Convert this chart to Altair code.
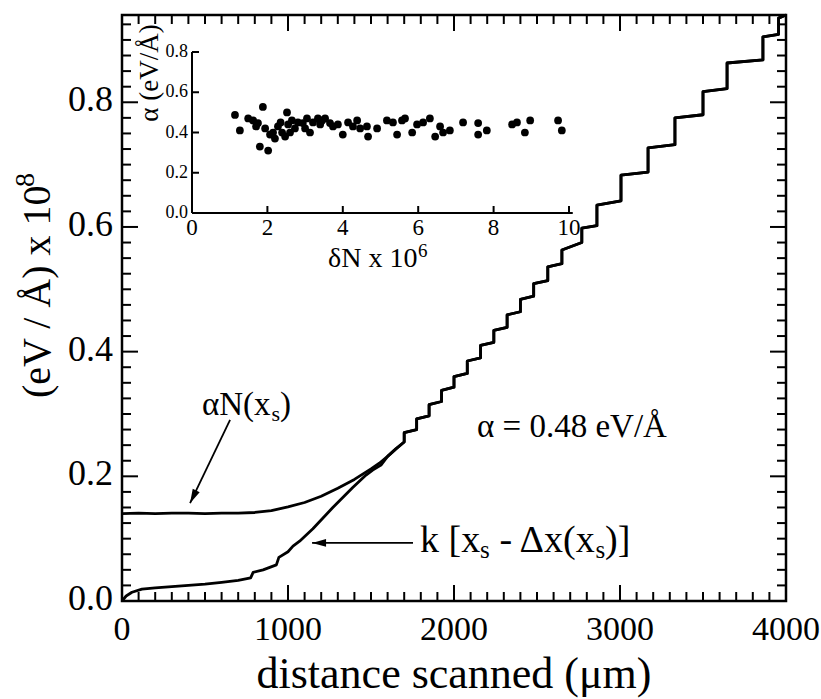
import altair as alt
import pandas as pd

FONT = "Liberation Serif"
W, H = 664, 586

# ---------------- main curves ----------------
an_x = [0, 100, 200, 300, 400, 500, 600, 700, 800, 900, 1000, 1100, 1200, 1300, 1400, 1500, 1550, 1600, 1650]
an_y = [0.140, 0.141, 0.140, 0.141, 0.141, 0.140, 0.141, 0.141, 0.142, 0.145, 0.151, 0.158, 0.168, 0.181,
        0.195, 0.212, 0.221, 0.232, 0.244]
stair_x = [1700, 1775, 1850, 1925, 2000, 2080, 2160, 2240, 2320, 2400, 2480, 2565, 2650, 2770, 2861,
           3006, 3169, 3331, 3500, 3645, 3861, 3955]
stair_lo = [0.255, 0.275, 0.297, 0.320, 0.343, 0.365, 0.390, 0.415, 0.439, 0.464, 0.489, 0.514, 0.541,
            0.575, 0.602, 0.642, 0.688, 0.732, 0.780, 0.822, 0.868, 0.909]
stair_hi = [0.270, 0.292, 0.315, 0.338, 0.360, 0.385, 0.410, 0.434, 0.459, 0.484, 0.509, 0.536, 0.563,
            0.598, 0.635, 0.683, 0.727, 0.775, 0.817, 0.863, 0.905, 0.935]
end_x, end_y = 4000, 0.940

k_x = [0, 25, 60, 120, 200, 300, 400, 500, 600, 700, 775, 790, 850, 930, 945, 1000, 1030, 1070, 1150,
       1270, 1390, 1470, 1510, 1560]
k_y = [0.0, 0.008, 0.014, 0.019, 0.021, 0.023, 0.025, 0.027, 0.030, 0.033, 0.037, 0.046, 0.050, 0.058,
       0.070, 0.079, 0.088, 0.096, 0.116, 0.150, 0.182, 0.202, 0.210, 0.218]

# ---------------- inset scatter ----------------
ins_x = [1.14, 1.27, 1.49, 1.62, 1.70, 1.75, 1.88, 1.80, 2.02, 1.94, 2.07, 2.15, 2.20, 2.28, 2.35, 2.39,
         2.47, 2.52, 2.55, 2.60, 2.65, 2.73, 2.81, 2.94, 3.00, 3.05, 3.13, 3.21, 3.34, 3.40, 3.45, 3.53,
         3.66, 3.74, 3.87, 4.00, 4.14, 4.27, 4.38, 4.46, 4.64, 4.67, 4.91, 5.17, 5.33, 5.44, 5.57, 5.65,
         5.84, 5.97, 6.13, 6.31, 6.45, 6.58, 6.66, 6.84, 7.19, 7.59, 7.59, 7.82, 8.49, 8.62, 8.83, 8.97,
         9.71, 9.81]
ins_y = [0.487, 0.41, 0.47, 0.46, 0.43, 0.447, 0.527, 0.33, 0.31, 0.42, 0.39, 0.40, 0.37, 0.43, 0.45,
         0.40, 0.38, 0.50, 0.44, 0.40, 0.46, 0.42, 0.45, 0.447, 0.42, 0.47, 0.40, 0.45, 0.47, 0.44, 0.46,
         0.47, 0.447, 0.43, 0.44, 0.39, 0.45, 0.43, 0.46, 0.42, 0.43, 0.38, 0.42, 0.46, 0.45, 0.39, 0.46,
         0.47, 0.40, 0.44, 0.45, 0.47, 0.38, 0.43, 0.40, 0.41, 0.45, 0.447, 0.39, 0.41, 0.44, 0.45, 0.40,
         0.46, 0.46, 0.41]

# ---------------- ticks and tick labels ----------------
x_major = [0, 1000, 2000, 3000, 4000]
x_labels = ["0", "1000", "2000", "3000", "4000"]
x_minor = [v for v in range(100, 4000, 100) if v % 1000 != 0]
y_major = [0.0, 0.2, 0.4, 0.6, 0.8]
y_labels = ["0.0", "0.2", "0.4", "0.6", "0.8"]
y_minor = [round(0.025 * k, 3) for k in range(1, 38) if k % 8 != 0]
ins_x_ticks = [0, 2, 4, 6, 8, 10]
ins_x_labels = ["0", "2", "4", "6", "8", "10"]
ins_y_ticks = [0.0, 0.2, 0.4, 0.6, 0.8]
ins_y_labels = ["0.0", "0.2", "0.4", "0.6", "0.8"]

# ---------------- annotation arrows (data coordinates) ----------------
arrow_id = ["a", "a", "k", "k"]
arrow_x = [651, 410, 1753, 1145]
arrow_y = [0.2905, 0.157, 0.0931, 0.0931]
head_x = [410, 1145]
head_y = [0.157, 0.0931]
head_ang = [206, 270]

# ---------------- build tables ----------------
rows = []
i = 0
for x, y in zip(an_x, an_y):
    rows.append(("aN", x, y, i)); i += 1
stair_pts = []
for xr, lo, hi in zip(stair_x, stair_lo, stair_hi):
    stair_pts += [(xr, lo), (xr, hi)]
stair_pts.append((end_x, end_y))
for x, y in stair_pts:
    rows.append(("aN", x, y, i)); i += 1
for x, y in zip(k_x, k_y):
    rows.append(("k", x, y, i)); i += 1
for x, y in list(zip(an_x, an_y)) + stair_pts:
    if x > k_x[-1]:
        rows.append(("k", x, y, i)); i += 1
line_df = pd.DataFrame(rows, columns=["series", "x", "y", "i"])

xs = alt.Scale(domain=[0, 4000], nice=False, zero=False)
ys = alt.Scale(domain=[0, 0.94], nice=False, zero=False)

lines = alt.Chart(line_df).mark_line(color="black", strokeWidth=2.8, strokeJoin="round").encode(
    x=alt.X("x:Q", scale=xs, axis=None),
    y=alt.Y("y:Q", scale=ys, axis=None),
    detail="series:N",
    order="i:Q",
)


def xtick_layer(vals, length, top):
    return alt.Chart(pd.DataFrame({"v": vals})).mark_tick(
        orient="vertical", size=length, thickness=2, color="black", opacity=1).encode(
        x=alt.X("v:Q", scale=xs, axis=None),
        y=alt.value(length / 2 if top else H - length / 2))


def ytick_layer(vals, length, right):
    return alt.Chart(pd.DataFrame({"v": vals})).mark_tick(
        orient="horizontal", size=length, thickness=2, color="black", opacity=1).encode(
        y=alt.Y("v:Q", scale=ys, axis=None),
        x=alt.value(W - length / 2 if right else length / 2))


tick_layers = [
    xtick_layer(x_major, 16, False), xtick_layer(x_minor, 9, False),
    xtick_layer(x_major, 16, True), xtick_layer(x_minor, 9, True),
    ytick_layer(y_major, 16, False), ytick_layer(y_minor, 9, False),
    ytick_layer(y_major, 16, True), ytick_layer(y_minor, 9, True),
]

xlab = alt.Chart(pd.DataFrame({"v": x_major, "t": x_labels})).mark_text(
    align="center", baseline="alphabetic", font=FONT, fontSize=34, color="black").encode(
    x=alt.X("v:Q", scale=xs, axis=None), y=alt.value(H + 39), text="t:N")
ylab = alt.Chart(pd.DataFrame({"v": y_major, "t": y_labels})).mark_text(
    align="right", baseline="middle", font=FONT, fontSize=36, color="black", dy=-2).encode(
    y=alt.Y("v:Q", scale=ys, axis=None), x=alt.value(-9), text="t:N")

arrow_df = pd.DataFrame({"id": arrow_id, "x": arrow_x, "y": arrow_y})
shafts = alt.Chart(arrow_df).mark_line(color="black", strokeWidth=1.8).encode(
    x=alt.X("x:Q", scale=xs, axis=None), y=alt.Y("y:Q", scale=ys, axis=None), detail="id:N")
head_df = pd.DataFrame({"x": head_x, "y": head_y, "ang": head_ang})
heads = alt.Chart(head_df).mark_point(
    shape="M0,0L0.55,2L-0.55,2Z", filled=True, size=196, color="black", opacity=1, strokeWidth=0).encode(
    x=alt.X("x:Q", scale=xs, axis=None), y=alt.Y("y:Q", scale=ys, axis=None),
    angle=alt.Angle("ang:Q", scale=None))

# text pieces in pixels relative to the plot area (left aligned)
txt_t = ["(eV / Å) x 10", "8",
         "αN(x", "s", ")",
         "α = 0.48 eV/Å",
         "k [x", "s", "- Δx(x", "s", ")]",
         "δN x 10", "6"]
txt_px = [-72, -88, 80, 149.5, 158, 355, 298, 358, 377.5, 473.5, 483, 206, 296]
txt_py = [383, 172, 400, 406, 400, 422, 537, 543, 537, 543, 537, 252, 242]
txt_fs = [40, 28, 33, 22, 33, 33, 38, 25, 38, 25, 38, 28, 19]
txt_ang = [270, 270, 0, 0, 0, 0, 0, 0, 0, 0, 0, 0, 0]
txt_df = pd.DataFrame({"t": txt_t, "px": txt_px, "py": txt_py, "fs": txt_fs, "ang": txt_ang})
texts = alt.Chart(txt_df).mark_text(align="left", baseline="alphabetic", font=FONT, color="black").encode(
    x=alt.X("px:Q", scale=None, axis=None), y=alt.Y("py:Q", scale=None, axis=None), text="t:N",
    size=alt.Size("fs:Q", scale=None, legend=None), angle=alt.Angle("ang:Q", scale=None))

ctxt_df = pd.DataFrame({"t": ["distance scanned (μm)", "α (eV/Å)"], "px": [332, 36], "py": [673, 58],
                        "fs": [44, 27], "ang": [0, 270]})
ctexts = alt.Chart(ctxt_df).mark_text(align="center", baseline="alphabetic", font=FONT, color="black").encode(
    x=alt.X("px:Q", scale=None, axis=None), y=alt.Y("py:Q", scale=None, axis=None), text="t:N",
    size=alt.Size("fs:Q", scale=None, legend=None), angle=alt.Angle("ang:Q", scale=None))

main = alt.layer(lines, *tick_layers, xlab, ylab, shafts, heads, texts, ctexts)

# ---------------- inset ----------------
ixs = alt.Scale(domain=[0, 10], range=[70, 447], nice=False, zero=False)
iys = alt.Scale(domain=[0, 0.8], range=[198, 37], nice=False, zero=False)
ins_df = pd.DataFrame({"dn": ins_x, "a": ins_y})
ins_pts = alt.Chart(ins_df).mark_circle(size=60, color="black", opacity=1).encode(
    x=alt.X("dn:Q", scale=ixs, axis=None),
    y=alt.Y("a:Q", scale=iys, axis=None),
)
ins_xt = alt.Chart(pd.DataFrame({"v": ins_x_ticks})).mark_tick(
    orient="vertical", size=7, thickness=2, color="black", opacity=1).encode(
    x=alt.X("v:Q", scale=ixs, axis=None), y=alt.value(198 - 3.5))
ins_yt = alt.Chart(pd.DataFrame({"v": ins_y_ticks})).mark_tick(
    orient="horizontal", size=7, thickness=2, color="black", opacity=1).encode(
    y=alt.Y("v:Q", scale=iys, axis=None), x=alt.value(70 + 3.5))
ins_dom = pd.DataFrame({"x0": [ins_x_ticks[0], ins_x_ticks[0]], "x1": [ins_x_ticks[-1] + 0.1, ins_x_ticks[0]],
                        "y0": [ins_y_ticks[0], ins_y_ticks[0]], "y1": [ins_y_ticks[0], ins_y_ticks[-1]]})
ins_axes = alt.Chart(ins_dom).mark_rule(color="black", strokeWidth=2).encode(
    x=alt.X("x0:Q", scale=ixs, axis=None), x2="x1:Q",
    y=alt.Y("y0:Q", scale=iys, axis=None), y2="y1:Q")
ins_xlab = alt.Chart(pd.DataFrame({"v": ins_x_ticks, "t": ins_x_labels})).mark_text(
    align="center", baseline="alphabetic", font=FONT, fontSize=23, color="black").encode(
    x=alt.X("v:Q", scale=ixs, axis=None), y=alt.value(220), text="t:N")
ins_ylab = alt.Chart(pd.DataFrame({"v": ins_y_ticks, "t": ins_y_labels})).mark_text(
    align="right", baseline="middle", font=FONT, fontSize=18, color="black").encode(
    y=alt.Y("v:Q", scale=iys, axis=None), x=alt.value(66), text="t:N")
inset = alt.layer(ins_axes, ins_xt, ins_yt, ins_pts, ins_xlab, ins_ylab)

chart = alt.layer(main, inset).resolve_scale(x="independent", y="independent").properties(
    width=W, height=H,
    padding={"left": 122, "top": 15, "right": 35, "bottom": 98},
    autosize=alt.AutoSizeParams(type="none"),
    background="white",
).configure_view(stroke="black", strokeWidth=2.5)

chart.save("out.html", embed_options={"renderer": "svg", "actions": False})
